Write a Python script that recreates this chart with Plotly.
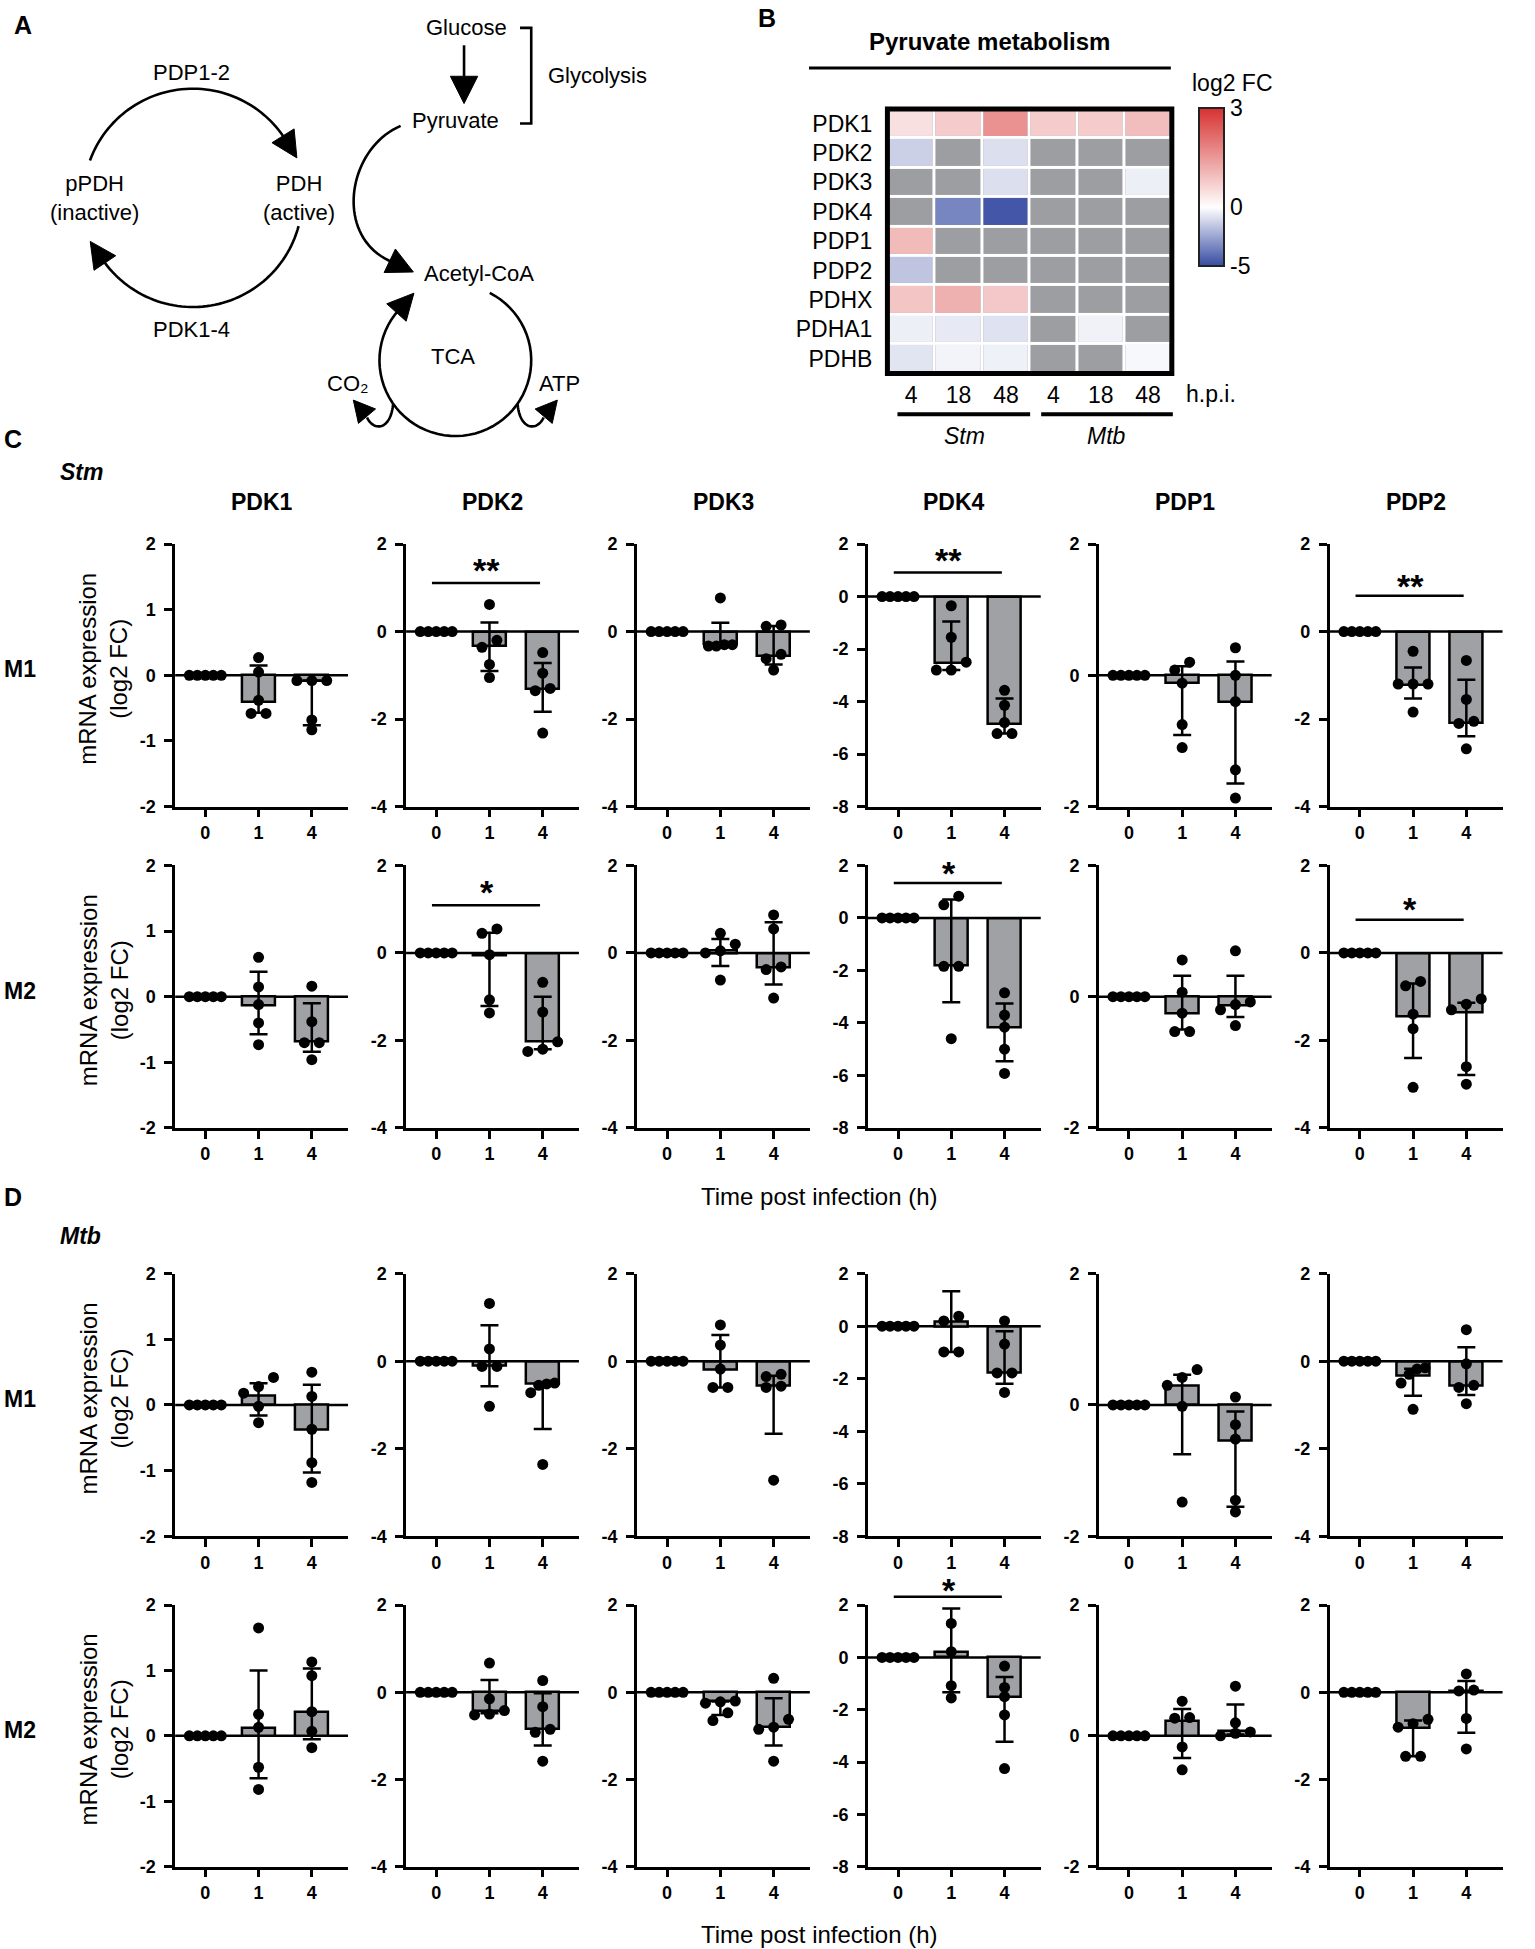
import math
import plotly.graph_objects as go

W, H = 1535, 1949
FONT = "Liberation Sans, Arial, Helvetica, sans-serif"

# ---------------- data: panel B heat map (log2 FC) ----------------
hm_genes = ["PDK1", "PDK2", "PDK3", "PDK4", "PDP1", "PDP2", "PDHX", "PDHA1", "PDHB"]
hm_cols = ["4", "18", "48", "4", "18", "48"]
hm_values = [
    [0.45, 0.75, 1.6, 0.75, 0.75, 0.95],
    [-1.3, None, -0.9, None, None, None],
    [None, None, -0.9, None, None, -0.45],
    [None, -3.4, -4.7, None, None, None],
    [1.0, None, None, None, None, None],
    [-1.6, None, None, None, None, None],
    [0.85, 1.15, 0.8, None, None, None],
    [-0.45, -0.6, -0.8, None, -0.35, None],
    [-0.75, -0.3, -0.4, None, None, -0.2],
]
cb_min, cb_zero_pos, cb_max = -5, 0.372, 3

# ---------------- data: panels C / D (qPCR, log2 FC) ----------------
genes = ["PDK1", "PDK2", "PDK3", "PDK4", "PDP1", "PDP2"]
time_labels = ["0", "1", "4"]
y_min = [-2, -4, -4, -8, -2, -4]
y_max = [2, 2, 2, 2, 2, 2]
y_dtick = [1, 2, 2, 2, 2, 2]
baseline_pts = [0, 0, 0, 0, 0]

# Stm, M1
stm_m1_pts_1h = [[0.27, 0.05, -0.38, -0.58, -0.58], [0.62, -0.2, -0.36, -0.75, -1.05],
                 [0.77, -0.3, -0.3, -0.33, -0.33], [-0.35, -1.55, -2.5, -2.8, -2.8],
                 [0.2, 0.08, -0.12, -0.75, -1.1], [-0.45, -1.2, -1.2, -1.2, -1.84]]
stm_m1_pts_4h = [[-0.08, -0.08, -0.08, -0.68, -0.83], [-0.48, -0.95, -1.3, -1.35, -2.32],
                 [0.15, 0.12, -0.52, -0.62, -0.88], [-3.57, -4.14, -4.8, -5.22, -5.22],
                 [0.42, 0.0, -0.4, -1.44, -1.87], [-0.66, -1.55, -2.05, -2.1, -2.68]]
stm_m1_med = [[-0.40, -0.08], [-0.34, -1.32], [-0.29, -0.55], [-2.55, -4.84], [-0.12, -0.40], [-1.22, -2.10]]
stm_m1_q1 = [[-0.57, -0.76], [-0.90, -1.83], [-0.33, -0.75], [-2.80, -5.22], [-0.91, -1.65], [-1.53, -2.39]]
stm_m1_q3 = [[0.15, -0.08], [0.21, -0.72], [0.20, 0.13], [-0.95, -3.88], [0.14, 0.21], [-0.82, -1.10]]
stm_m1_sig = [(1, "**", 1.11, 1.47), (3, "**", 0.92, 1.49), (5, "**", 0.82, 1.12)]

# Stm, M2
stm_m2_pts_1h = [[0.6, 0.15, -0.12, -0.4, -0.73], [0.55, 0.45, -0.04, -1.07, -1.37],
                 [0.45, 0.2, 0.05, 0.0, -0.62], [0.83, 0.5, -1.84, -1.84, -4.6],
                 [0.56, 0.07, -0.25, -0.53, -0.53], [-0.65, -0.75, -1.4, -1.73, -3.07]]
stm_m2_pts_4h = [[0.16, -0.38, -0.7, -0.7, -0.96], [-0.67, -1.35, -2.03, -2.2, -2.25],
                 [0.87, 0.55, -0.32, -0.38, -1.03], [-2.85, -3.7, -4.16, -5.0, -5.92],
                 [0.7, -0.08, -0.12, -0.2, -0.44], [-1.05, -1.17, -1.3, -2.6, -3.0]]
stm_m2_med = [[-0.13, -0.68], [-0.05, -2.03], [0.06, -0.34], [-1.80, -4.16], [-0.25, -0.14], [-1.44, -1.35]]
stm_m2_q1 = [[-0.57, -0.84], [-1.21, -2.20], [-0.30, -0.72], [-3.21, -5.46], [-0.50, -0.31], [-2.40, -2.79]]
stm_m2_q3 = [[0.38, -0.10], [0.46, -1.00], [0.32, 0.70], [0.70, -3.26], [0.32, 0.32], [-0.70, -1.14]]
stm_m2_sig = [(1, "*", 1.09, 1.47), (3, "*", 1.33, 1.84), (5, "*", 0.76, 1.07)]

# Mtb, M1
mtb_m1_pts_1h = [[0.42, 0.28, 0.18, -0.02, -0.27], [1.32, 0.28, -0.12, -0.12, -1.03],
                 [0.83, 0.37, -0.18, -0.6, -0.6], [0.38, 0.2, -0.98, -0.98],
                 [0.54, 0.42, 0.3, -0.02, -1.48], [-0.15, -0.18, -0.3, -0.5, -1.1]]
mtb_m1_pts_4h = [[0.5, 0.13, -0.37, -0.88, -1.18], [-0.5, -0.52, -0.55, -0.72, -2.36],
                 [-0.3, -0.35, -0.57, -0.6, -2.72], [0.2, -0.68, -1.78, -1.78, -2.52],
                 [0.12, -0.3, -0.52, -1.45, -1.63], [0.72, -0.06, -0.55, -0.6, -0.97]]
mtb_m1_med = [[0.14, -0.38], [-0.10, -0.52], [-0.20, -0.55], [0.17, -1.78], [0.29, -0.55], [-0.32, -0.56]]
mtb_m1_q1 = [[-0.16, -1.03], [-0.57, -1.55], [-0.60, -1.66], [-0.98, -2.19], [-0.75, -1.55], [-0.79, -0.77]]
mtb_m1_q3 = [[0.33, 0.31], [0.82, -0.51], [0.60, -0.33], [1.33, -0.19], [0.46, -0.10], [-0.17, 0.32]]
mtb_m1_sig = []

# Mtb, M2
mtb_m2_pts_1h = [[1.65, 0.33, 0.13, -0.48, -0.82], [0.67, -0.15, -0.42, -0.5, -0.52],
                 [-0.2, -0.22, -0.25, -0.47, -0.65], [1.3, 0.22, -1.08, -1.55],
                 [0.53, 0.28, 0.27, -0.17, -0.52], [-0.62, -0.72, -0.8, -1.47, -1.47]]
mtb_m2_pts_4h = [[1.13, 0.92, 0.37, 0.07, -0.18], [0.27, -0.33, -0.85, -0.92, -1.58],
                 [0.32, -0.62, -0.8, -0.85, -1.58], [-0.33, -1.15, -1.5, -2.2, -4.25],
                 [0.76, 0.2, 0.06, 0.04, 0.0], [0.42, 0.03, 0.05, -0.6, -1.3]]
mtb_m2_med = [[0.12, 0.36], [-0.44, -0.85], [-0.21, -0.79], [0.19, -1.52], [0.23, 0.07], [-0.83, 0.02]]
mtb_m2_q1 = [[-0.65, -0.05], [-0.48, -1.22], [-0.52, -1.22], [-1.33, -3.23], [-0.34, 0.02], [-1.47, -0.93]]
mtb_m2_q3 = [[1.00, 1.03], [0.28, -0.02], [-0.21, -0.14], [1.87, -0.75], [0.41, 0.48], [-0.65, 0.26]]
mtb_m2_sig = [(3, "*", 2.32, 2.70)]

rows = [
    (stm_m1_pts_1h, stm_m1_pts_4h, stm_m1_med, stm_m1_q1, stm_m1_q3, stm_m1_sig),
    (stm_m2_pts_1h, stm_m2_pts_4h, stm_m2_med, stm_m2_q1, stm_m2_q3, stm_m2_sig),
    (mtb_m1_pts_1h, mtb_m1_pts_4h, mtb_m1_med, mtb_m1_q1, mtb_m1_q3, mtb_m1_sig),
    (mtb_m2_pts_1h, mtb_m2_pts_4h, mtb_m2_med, mtb_m2_q1, mtb_m2_q3, mtb_m2_sig),
]

# ---------------- layout geometry (pixels) ----------------
SXD, SYD = 1535 / 1240, 1949 / 1568   # reference-view to pixel scale
row_top = [542, 864, 1273, 1605]
row_bot = [805, 1127, 1536, 1867]
col_x0 = [(140.8 + 185.6 * i) * SXD for i in range(6)]
col_w = 172
X_RANGE = [-0.566, 2.68]
KX, KY, OY = 1.005, 1.0085, -7.0     # fine placement calibration


def PX(x):
    return KX * x / W


def PY(y):
    return 1 - (KY * y + OY) / H


def D(xd, yd):
    """reference-view coords -> paper coords"""
    return PX(xd * SXD), PY(yd * SYD)


def tick_text(v):
    return ("-" if v < 0 else "") + f"{abs(v):g}"


def swarm(vals, span):
    thr = 0.035 * span
    idx = sorted(range(len(vals)), key=lambda k: vals[k])
    offs = [0.0] * len(vals)
    clusters, cur = [], [idx[0]]
    for a, b in zip(idx, idx[1:]):
        if vals[b] - vals[a] < thr:
            cur.append(b)
        else:
            clusters.append(cur)
            cur = [b]
    clusters.append(cur)
    for c in clusters:
        k = len(c)
        step = 0.15 if k >= 4 else 0.28
        for j, m in enumerate(c):
            offs[m] = (j - (k - 1) / 2) * step
    return offs


fig = go.Figure()
shapes, annotations = [], []
layout_axes = {}
AXW = 2.5
TICKFONT = dict(family=FONT, size=18, color="black", weight="bold")

for r, (p1, p4, med, q1, q3, sig) in enumerate(rows):
    for i in range(6):
        n = r * 6 + i + 1
        xs = "" if n == 1 else str(n)
        xa, ya = "x" + xs, "y" + xs
        span = y_max[i] - y_min[i]
        fig.add_trace(go.Bar(
            x=[1, 2], y=med[i], xaxis=xa, yaxis=ya, width=0.62,
            marker=dict(color="#9fa1a5", line=dict(color="black", width=2.5)),
            error_y=dict(type="data", symmetric=False,
                         array=[q3[i][k] - med[i][k] for k in range(2)],
                         arrayminus=[med[i][k] - q1[i][k] for k in range(2)],
                         color="black", thickness=2.5, width=9),
            showlegend=False, hoverinfo="skip"))
        px_, py_ = [], []
        for g, vals in enumerate([baseline_pts, p1[i], p4[i]]):
            offs = swarm(vals, span)
            px_ += [g + o for o in offs]
            py_ += list(vals)
        fig.add_trace(go.Scatter(
            x=px_, y=py_, xaxis=xa, yaxis=ya, mode="markers",
            marker=dict(color="black", size=11), showlegend=False, hoverinfo="skip"))
        yt = list(range(y_min[i], y_max[i] + 1, y_dtick[i]))
        layout_axes["xaxis" + xs] = dict(
            domain=[PX(col_x0[i]), PX(col_x0[i] + col_w)], anchor=ya, range=X_RANGE,
            tickvals=[0, 1, 2], ticktext=time_labels,
            showline=True, linewidth=AXW, linecolor="black", ticks="outside", ticklen=8,
            tickwidth=AXW, tickcolor="black", showgrid=False, zeroline=False,
            tickfont=TICKFONT, fixedrange=True)
        layout_axes["yaxis" + xs] = dict(
            domain=[PY(row_bot[r]), PY(row_top[r])], anchor=xa, range=[y_min[i], y_max[i]],
            tickvals=yt, ticktext=[tick_text(v) for v in yt],
            showline=True, linewidth=AXW, linecolor="black", ticks="outside",
            ticklen=8, tickwidth=AXW, tickcolor="black", showgrid=False, zeroline=False,
            ticklabelstandoff=5, tickfont=TICKFONT, fixedrange=True)
        shapes.append(dict(type="line", xref=xa + " domain", yref=ya, x0=0, x1=1, y0=0, y1=0,
                           line=dict(color="black", width=AXW), layer="below"))
    for (gi, lab, ly, sy) in sig:
        n = r * 6 + gi + 1
        xs = "" if n == 1 else str(n)
        span = y_max[gi] - y_min[gi]
        shapes.append(dict(type="line", xref="x" + xs, yref="y" + xs + " domain",
                           x0=-0.08, x1=1.95,
                           y0=(ly - y_min[gi]) / span, y1=(ly - y_min[gi]) / span,
                           line=dict(color="black", width=2.5)))
        annotations.append(dict(xref="x" + xs, yref="y" + xs + " domain", x=0.95,
                                y=(sy - y_min[gi]) / span, text="<b>" + lab + "</b>",
                                showarrow=False, yshift=18,
                                font=dict(family=FONT, size=34, color="black")))

# ---------------- heat map (panel B) ----------------
HM = dict(x0=883, x1=1166, y0=106, y1=371)


def cb_t(v):
    if v is None:
        return None
    if v >= 0:
        return cb_zero_pos + (1 - cb_zero_pos) * v / cb_max
    return cb_zero_pos * (1 - v / cb_min)


z_t = [[cb_t(v) for v in row] for row in hm_values]
xcat = list(range(len(hm_cols)))
fig.add_trace(go.Heatmap(
    z=[[1] * 6 for _ in hm_genes], x=xcat, y=hm_genes, xaxis="x25", yaxis="y25",
    colorscale=[[0, "#9c9ea1"], [1, "#9c9ea1"]], showscale=False, xgap=3, ygap=3,
    hoverinfo="skip"))
fig.add_trace(go.Heatmap(
    z=z_t, x=xcat, y=hm_genes, xaxis="x25", yaxis="y25", zmin=0, zmax=1,
    colorscale=[[0, "rgb(55,75,162)"], [cb_zero_pos, "rgb(255,255,255)"], [1, "rgb(214,50,48)"]],
    xgap=3, ygap=3, hoverinfo="skip",
    colorbar=dict(x=PX(1193), xanchor="left", y=PY(105), yanchor="top",
                  thickness=25, thicknessmode="pixels", len=158, lenmode="pixels",
                  xpad=0, ypad=0, outlinewidth=2, outlinecolor="#222",
                  tickvals=[0, cb_zero_pos, 1],
                  ticktext=[str(cb_min), "0", str(cb_max)], ticks="",
                  tickfont=dict(family=FONT, size=23, color="black"))))
layout_axes["xaxis25"] = dict(
    domain=[PX(HM["x0"]), PX(HM["x1"])], anchor="y25", tickvals=xcat, ticktext=hm_cols,
    showgrid=False, zeroline=False, showline=False, ticks="", ticklabelstandoff=6,
    tickfont=dict(family=FONT, size=23, color="black"), fixedrange=True)
layout_axes["yaxis25"] = dict(
    domain=[PY(HM["y1"]), PY(HM["y0"])], anchor="x25", autorange="reversed",
    showgrid=False, zeroline=False, showline=False, ticks="", ticklabelstandoff=14,
    tickfont=dict(family=FONT, size=23, color="black"), fixedrange=True)
shapes.append(dict(type="rect", xref="paper", yref="paper",
                   x0=PX(HM["x0"]), x1=PX(HM["x1"]), y0=PY(HM["y1"]), y1=PY(HM["y0"]),
                   line=dict(color="black", width=5), layer="above"))
cb_zero_y = 105 + 158 * (1 - cb_zero_pos)
for (a, b) in [(1193, 1200), (1211, 1218)]:
    shapes.append(dict(type="line", xref="paper", yref="paper", x0=PX(a), x1=PX(b),
                       y0=PY(cb_zero_y), y1=PY(cb_zero_y), line=dict(color="black", width=2)))
shapes.append(dict(type="line", xref="paper", yref="paper", x0=PX(805), x1=PX(1165),
                   y0=PY(65), y1=PY(65), line=dict(color="black", width=3)))
for (a, b) in [(893, 1025), (1036, 1167)]:
    shapes.append(dict(type="line", xref="paper", yref="paper", x0=PX(a), x1=PX(b),
                       y0=PY(412), y1=PY(412), line=dict(color="black", width=4)))


def txt(x, y, s, size=23, xanchor="center", yanchor="middle", angle=0):
    annotations.append(dict(xref="paper", yref="paper", x=PX(x), y=PY(y), text=s,
                            showarrow=False, xanchor=xanchor, yanchor=yanchor,
                            textangle=angle,
                            font=dict(family=FONT, size=size, color="black")))


txt(985, 39, "<b>Pyruvate metabolism</b>", 24)
txt(1226, 80, "log2 FC", 23)
txt(1178, 392, "h.p.i.", 23, xanchor="left")
txt(960, 434, "<i>Stm</i>", 23)
txt(1101, 434, "<i>Mtb</i>", 23)

txt(12, 22, "<b>A</b>", 25, xanchor="left")
txt(752, 15, "<b>B</b>", 25, xanchor="left")
txt(2, 437, "<b>C</b>", 25, xanchor="left")
txt(2, 1196, "<b>D</b>", 25, xanchor="left")
txt(58, 470, "<b><i>Stm</i></b>", 23, xanchor="left")
txt(58, 1235, "<b><i>Mtb</i></b>", 23, xanchor="left")
for i, gname in enumerate(genes):
    txt(col_x0[i] + col_w / 2, 500, "<b>" + gname + "</b>", 23)
for r, lab in enumerate(["M1", "M2", "M1", "M2"]):
    cy = (row_top[r] + row_bot[r]) / 2 - 6
    txt(20, cy, "<b>" + lab + "</b>", 23)
    txt(103, cy, "mRNA expression<br>(log2 FC)", 24, angle=-90)
txt(815, 1196, "Time post infection (h)", 24)
txt(815, 1935, "Time post infection (h)", 24)

# ---------------- panel A: pathway diagram ----------------
LW = 2.6


def path_of(pts, close=False):
    s = ""
    for k, (x, y) in enumerate(pts):
        px_, py_ = D(x, y)
        s += ("M" if k == 0 else "L") + f"{px_:.5f},{py_:.5f} "
    return s + ("Z" if close else "")


def line_path(pts):
    shapes.append(dict(type="path", xref="paper", yref="paper", path=path_of(pts),
                       line=dict(color="black", width=LW)))


def arrowhead(tip, direction, L=21, hw=10.5):
    dx, dy = direction
    nrm = math.hypot(dx, dy)
    dx, dy = dx / nrm, dy / nrm
    bx, by = tip[0] - L * dx, tip[1] - L * dy
    pts = [tip, (bx - hw * dy, by + hw * dx), (bx + hw * dy, by - hw * dx)]
    shapes.append(dict(type="path", xref="paper", yref="paper", path=path_of(pts, True),
                       fillcolor="black", line=dict(color="black", width=1)))


def arc(cx, cy, r, a0, a1, n=60):
    return [(cx + r * math.cos(math.radians(a0 + (a1 - a0) * k / n)),
             cy - r * math.sin(math.radians(a0 + (a1 - a0) * k / n))) for k in range(n + 1)]


def tangent_cw(a):
    return (math.sin(math.radians(a)), math.cos(math.radians(a)))


def bez(p0, p1, p2, p3, n=40):
    out = []
    for k in range(n + 1):
        t = k / n
        out.append(tuple((1 - t) ** 3 * p0[j] + 3 * (1 - t) ** 2 * t * p1[j]
                         + 3 * (1 - t) * t ** 2 * p2[j] + t ** 3 * p3[j] for j in range(2)))
    return out


cx, cy, rr = 155, 157, 88
top = arc(cx, cy, rr, 160, 32)
line_path(top)
end = top[-1]
d = tangent_cw(32)
arrowhead((end[0] + 17 * d[0], end[1] + 17 * d[1]), d)
bot = arc(cx, cy, rr, -15, -146)
line_path(bot)
end = bot[-1]
d = tangent_cw(-146)
arrowhead((end[0] + 17 * d[0], end[1] + 17 * d[1]), d)

line_path([(373, 34), (373, 64)])
arrowhead((373, 81), (0, 1), L=22, hw=11)
line_path([(418, 20), (427, 20), (427, 97), (418, 97)])

pb = bez((322, 99), (278, 118), (268, 190), (316, 209))
line_path(pb)
d = (pb[-1][0] - pb[-3][0], pb[-1][1] - pb[-3][1])
nd = math.hypot(*d)
arrowhead((pb[-1][0] + 18 * d[0] / nd, pb[-1][1] + 18 * d[1] / nd), d)

tca = arc(366, 288, 61, 63, -222)
line_path(tca)
end = tca[-1]
d = tangent_cw(-222)
arrowhead((end[0] + 18 * d[0], end[1] + 18 * d[1]), d)
hook_l = bez((316, 323), (314, 345), (300, 345), (295, 334))
line_path(hook_l)
arrowhead((284, 320), (-11, -13), L=17, hw=9)
hook_r = bez((416, 323), (418, 345), (432, 345), (437, 334))
line_path(hook_r)
arrowhead((448, 320), (11, -13), L=17, hw=9)

for (x, y, s) in [(375, 20, "Glucose"), (366, 95, "Pyruvate"), (480, 58, "Glycolysis"),
                  (154, 56, "PDP1-2"), (76, 157, "pPDH<br>(inactive)"),
                  (240, 157, "PDH<br>(active)"), (154, 263, "PDK1-4"),
                  (385, 218, "Acetyl-CoA"), (364, 285, "TCA"), (280, 307, "CO₂"),
                  (450, 307, "ATP")]:
    txt(x * SXD, y * SYD, s, 22)

fig.update_layout(
    width=W, height=H, margin=dict(l=0, r=0, t=0, b=0),
    paper_bgcolor="white", plot_bgcolor="white", showlegend=False,
    bargap=0, barmode="overlay",
    font=dict(family=FONT, color="black"),
    shapes=shapes, annotations=annotations, **layout_axes)

fig.write_html("out.html", config={"displayModeBar": False},
               post_script="document.body.style.margin='0';")
